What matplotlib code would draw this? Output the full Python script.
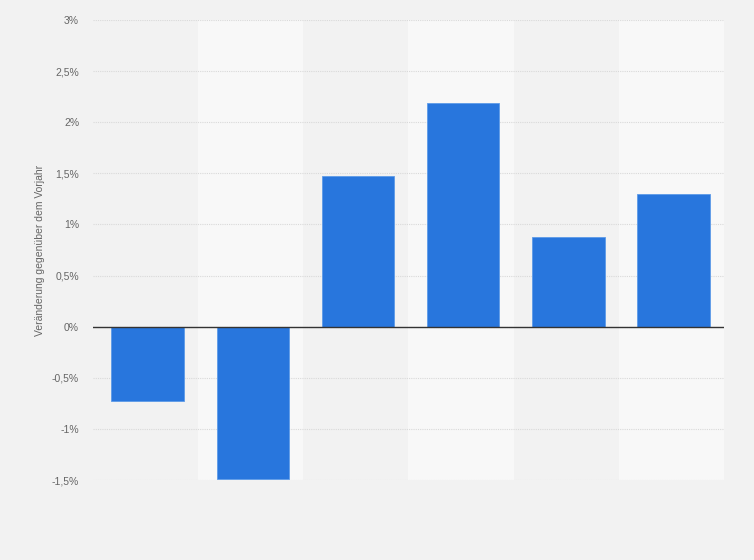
import matplotlib.pyplot as plt
from matplotlib.ticker import FuncFormatter

plt.rcParams['font.family'] = ['Liberation Sans', 'DejaVu Sans']

# Veränderung gegenüber dem Vorjahr (in %)
categories = ["1", "2", "3", "4", "5", "6"]
values = [-0.73, -1.49, 1.47, 2.19, 0.88, 1.30]
yticks = [-1.5, -1, -0.5, 0, 0.5, 1, 1.5, 2, 2.5, 3]

bg = "#f2f2f2"
fig = plt.figure(figsize=(7.54, 5.60), dpi=100, facecolor=bg)
ax = fig.add_axes([93 / 754, 80 / 560, 631 / 754, 460 / 560])
ax.set_facecolor(bg)

x = list(range(len(categories)))
# abwechselnde Hintergrundstreifen
for i in x:
    if i % 2 == 1:
        ax.axvspan(i - 0.5, i + 0.5, color="#f8f8f8", zorder=0, lw=0)

ax.bar([i + 0.02 for i in x], values, width=0.69, color="#2876dd",
       edgecolor="#5d9be8", linewidth=0.6, zorder=3)

ax.set_xlim(-0.5, len(categories) - 0.5)
ax.set_ylim(-1.5, 3)
ax.set_yticks(yticks)
ax.yaxis.set_major_formatter(FuncFormatter(
    lambda v, p: ("%g%%" % v).replace(".", ",")))
ax.set_xticks([])
ax.tick_params(axis="y", length=0, pad=10, labelsize=7.5, labelcolor="#666666")
ax.grid(axis="y", color="#d9d9d9", linestyle=(0, (1, 1)), linewidth=0.8, zorder=1)
ax.axhline(0, color="#333333", linewidth=1, zorder=4)
for s in ax.spines.values():
    s.set_visible(False)

ax.set_ylabel("Veränderung gegenüber dem Vorjahr", fontsize=7.5, color="#666666",
              labelpad=5)

fig.savefig("out.png", dpi=100, facecolor=bg)
